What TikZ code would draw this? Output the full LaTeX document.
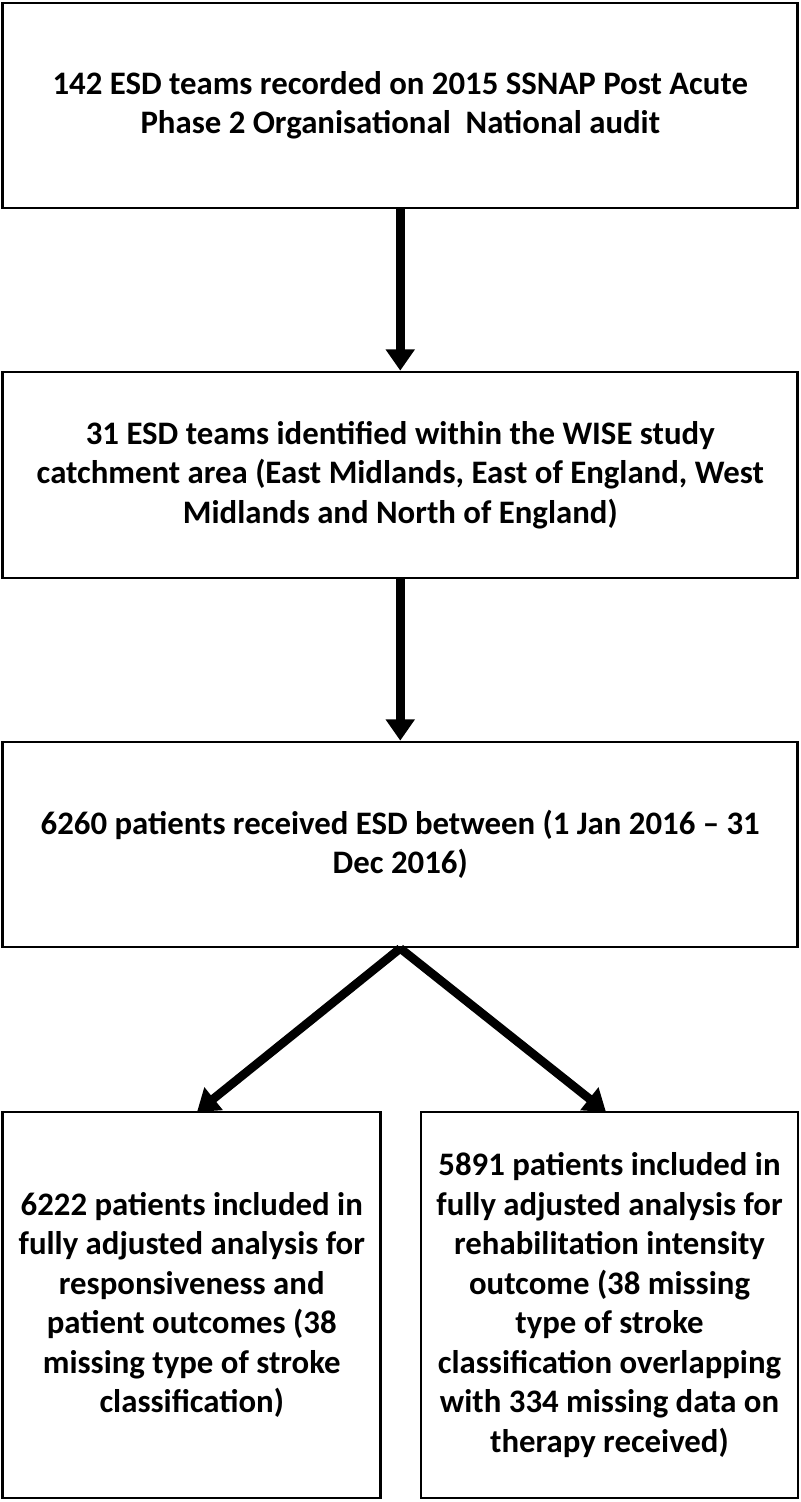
\documentclass[tikz,border=0pt]{standalone}
\usepackage{fontspec}
\setmainfont{Carlito}
\usetikzlibrary{arrows.meta}
\begin{document}
\begin{tikzpicture}[x=0.75pt,y=-0.75pt,
  box/.style={draw=black, line width=2pt, fill=white, align=center, inner sep=0pt,
    font=\fontsize{24.6}{29.6}\selectfont\bfseries},
  flowarrow/.style={line width=6.5pt, -{Triangle[width=21pt,length=16pt]}}]
\useasboundingbox (0,0) rectangle (800,1502);
\fill[white] (0,0) rectangle (800,1502);
\node[box, minimum width=795pt*0.75, minimum height=205pt*0.75] (b1) at (400.25,105.5)
  {142 ESD teams recorded on 2015 SSNAP Post Acute\\Phase 2 Organisational \ National audit};
\node[box, minimum width=795pt*0.75, minimum height=206pt*0.75] (b2) at (400.25,475)
  {31 ESD teams identified within the WISE study\\catchment area (East Midlands, East of England, West\\Midlands and North of England)};
\node[box, minimum width=795pt*0.75, minimum height=205pt*0.75] (b3) at (400.25,844.5)
  {6260 patients received ESD between (1 Jan 2016 -- 31\\Dec 2016)};
\node[box, minimum width=378pt*0.75, minimum height=386pt*0.75] (b4) at (191.75,1305)
  {6222 patients included in\\fully adjusted analysis for\\responsiveness and\\patient outcomes (38\\missing type of stroke\\classification)};
\node[box, minimum width=377pt*0.75, minimum height=386pt*0.75] (b5) at (609.5,1305)
  {5891 patients included in\\fully adjusted analysis for\\rehabilitation intensity\\outcome (38 missing\\type of stroke\\classification overlapping\\with 334 missing data on\\therapy received)};
\draw[flowarrow] (b1.south) -- (b2.north);
\draw[flowarrow] (b2.south) -- (b3.north);
\coordinate (t4) at (197,1112);
\coordinate (t5) at (606,1112);
\draw[flowarrow] (b3.south) -- (t4);
\draw[flowarrow] (b3.south) -- (t5);
\end{tikzpicture}
\end{document}
